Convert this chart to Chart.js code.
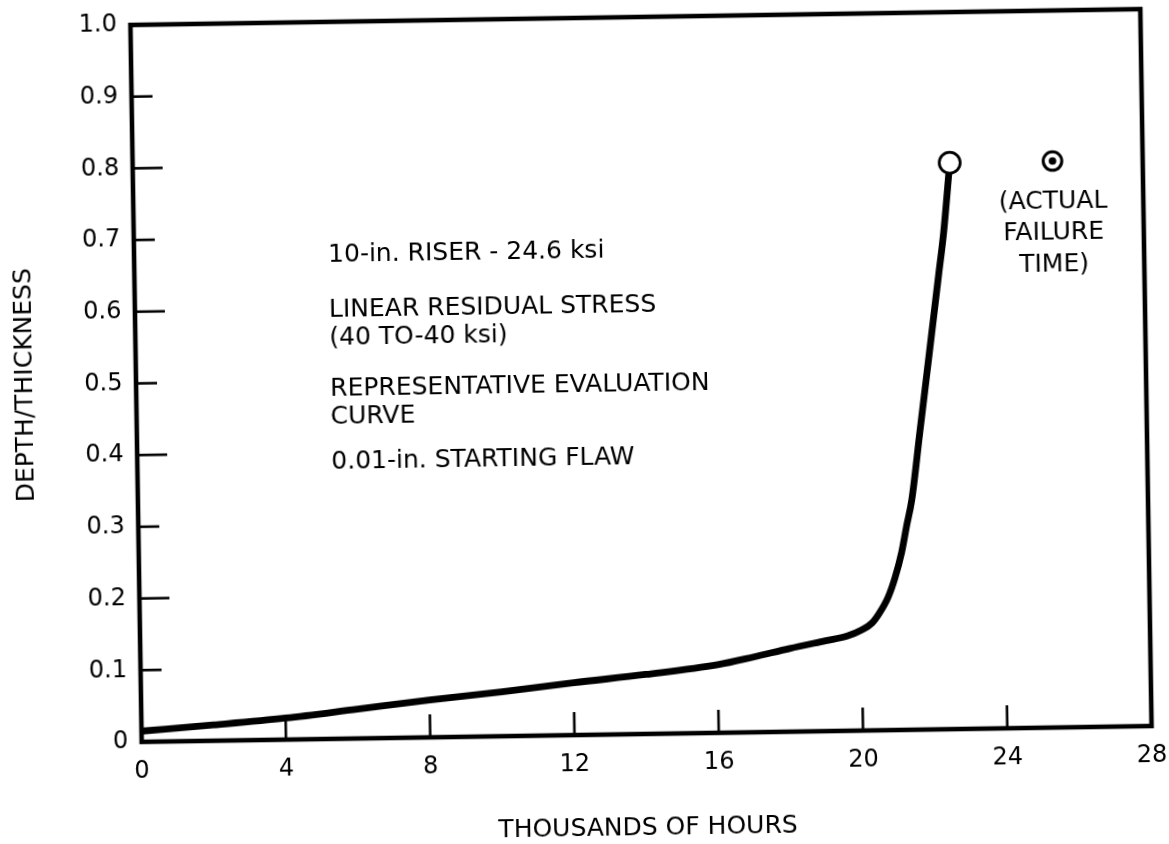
<!DOCTYPE html>
<html>
<head>
<meta charset="utf-8">
<script src="https://cdn.jsdelivr.net/npm/chart.js@4/dist/chart.umd.min.js"></script>
<style>
  html, body { margin: 0; padding: 0; background: #fff; overflow: hidden; }
  #wrap { width: 1169px; height: 844px; }
  /* the printed figure sits slightly askew on the page */
  canvas { display: block; transform: rotate(-0.9deg); transform-origin: 641px 376px; }
</style>
</head>
<body>
<div id="wrap"><canvas id="c" width="1169" height="844"></canvas></div>
<script>
// Crack growth: flaw depth / wall thickness against operating time (thousands of hours)
const hours = [0, 2, 4, 6, 8, 10, 12, 14, 16, 17, 18, 19, 19.6, 20.0, 20.3, 20.5, 20.75, 20.95, 21.15, 21.3, 21.45, 21.7, 22.0, 22.3, 22.45, 22.65];
const depthRatio = [0.015, 0.022, 0.030, 0.041, 0.052, 0.062, 0.073, 0.083, 0.095, 0.105, 0.116, 0.126, 0.132, 0.140, 0.150, 0.163, 0.185, 0.212, 0.248, 0.285, 0.320, 0.413, 0.524, 0.636, 0.692, 0.790];

// End of the predicted curve and the observed failure
const predictedFailure = { x: 22.65, y: 0.79 };
const actualFailure = { x: 25.5, y: 0.79 };

const xTicks = [0, 4, 8, 12, 16, 20, 24, 28];
const xTickLabels = ['0', '4', '8', '12', '16', '20', '24', '28'];
const yTicks = [0, 0.1, 0.2, 0.3, 0.4, 0.5, 0.6, 0.7, 0.8, 0.9, 1.0];
const yTickLabels = ['0', '0.1', '0.2', '0.3', '0.4', '0.5', '0.6', '0.7', '0.8', '0.9', '1.0'];

const caseNotes = [
  '10-in. RISER - 24.6 ksi',
  'LINEAR RESIDUAL STRESS',
  '(40 TO-40 ksi)',
  'REPRESENTATIVE EVALUATION',
  'CURVE',
  '0.01-in. STARTING FLAW'
];
const failureNote = ['(ACTUAL', 'FAILURE', 'TIME)'];

const FONT = 'DejaVu Sans, Liberation Sans, sans-serif';
const INK = '#000';

// Frame, inward tick marks and the text notes inside the plot
const framePlugin = {
  id: 'frame',
  afterDraw(chart) {
    const { ctx, chartArea: a, scales: { x, y } } = chart;
    ctx.save();
    ctx.strokeStyle = INK;
    ctx.lineCap = 'butt';

    // inward ticks on the depth axis: long at even tenths, short at odd
    ctx.lineWidth = 2.6;
    yTicks.forEach(v => {
      if (v <= 0 || v >= 1) return;
      const py = y.getPixelForValue(v);
      const len = Math.round(v * 10) % 2 === 0 ? 30 : 21;
      ctx.beginPath();
      ctx.moveTo(a.left, py);
      ctx.lineTo(a.left + len, py);
      ctx.stroke();
    });
    // inward ticks on the time axis
    xTicks.forEach(v => {
      if (v <= 0 || v >= 28) return;
      const px = x.getPixelForValue(v);
      ctx.beginPath();
      ctx.moveTo(px, a.bottom);
      ctx.lineTo(px, a.bottom - 23);
      ctx.stroke();
    });

    // heavy frame
    ctx.lineWidth = 4.6;
    ctx.lineJoin = 'miter';
    ctx.strokeRect(a.left, a.top, a.right - a.left, a.bottom - a.top);

    // case description
    ctx.fillStyle = INK;
    ctx.font = '25px ' + FONT;
    ctx.textBaseline = 'middle';
    ctx.textAlign = 'left';
    const noteX = x.getPixelForValue(5.38);
    const noteY = [0.674, 0.597, 0.559, 0.488, 0.449, 0.385];
    caseNotes.forEach((t, i) => ctx.fillText(t, noteX, y.getPixelForValue(noteY[i])));

    // label under the observed failure point
    ctx.textAlign = 'center';
    const failX = x.getPixelForValue(actualFailure.x);
    const failY = [0.733, 0.690, 0.645];
    failureNote.forEach((t, i) => ctx.fillText(t, failX, y.getPixelForValue(failY[i])));
    ctx.restore();
  }
};

new Chart(document.getElementById('c'), {
  type: 'line',
  data: {
    datasets: [
      {
        // observed failure: ring with a centre dot
        data: [actualFailure],
        showLine: false,
        pointRadius: 3.8,
        pointBackgroundColor: INK,
        pointBorderWidth: 0,
        order: 0
      },
      {
        data: [actualFailure],
        showLine: false,
        pointRadius: 9.3,
        pointBackgroundColor: '#fff',
        pointBorderColor: INK,
        pointBorderWidth: 3,
        order: 1
      },
      {
        // predicted failure at the end of the curve
        data: [predictedFailure],
        showLine: false,
        pointRadius: 10.5,
        pointBackgroundColor: '#fff',
        pointBorderColor: INK,
        pointBorderWidth: 2.8,
        order: 2
      },
      {
        data: hours.map((h, i) => ({ x: h, y: depthRatio[i] })),
        borderColor: INK,
        borderWidth: 6.8,
        pointRadius: 0,
        fill: false,
        cubicInterpolationMode: 'monotone',
        borderCapStyle: 'round',
        borderJoinStyle: 'round',
        order: 3
      }
    ]
  },
  options: {
    responsive: false,
    devicePixelRatio: 1,
    animation: false,
    events: [],
    layout: { autoPadding: false, padding: { left: 0, right: 23, top: 17, bottom: 0 } },
    plugins: { legend: { display: false }, tooltip: { enabled: false } },
    scales: {
      x: {
        type: 'linear',
        min: 0,
        max: 28,
        afterBuildTicks: s => { s.ticks = xTicks.map(v => ({ value: v })); },
        // fixed axis band; end labels may overhang the frame
        afterFit: s => { s.height = 110; s.paddingLeft = 0; s.paddingRight = 0; },
        grid: { display: false, drawTicks: false },
        border: { display: false },
        ticks: {
          padding: 15,
          color: INK,
          font: { family: FONT, size: 24 },
          maxRotation: 0,
          autoSkip: false,
          callback: (v, i) => xTickLabels[i]
        },
        title: {
          display: true,
          text: 'THOUSANDS OF HOURS',
          color: INK,
          font: { family: FONT, size: 25 },
          padding: { top: 0, bottom: 1 }
        }
      },
      y: {
        type: 'linear',
        min: 0,
        max: 1,
        afterBuildTicks: s => { s.ticks = yTicks.map(v => ({ value: v })); },
        afterFit: s => { s.width = 136; s.paddingTop = 0; s.paddingBottom = 0; },
        grid: { display: false, drawTicks: false },
        border: { display: false },
        ticks: {
          padding: 13.5,
          color: INK,
          font: { family: FONT, size: 24 },
          autoSkip: false,
          callback: (v, i) => yTickLabels[i]
        },
        title: {
          display: true,
          text: 'DEPTH/THICKNESS',
          color: INK,
          font: { family: FONT, size: 25 },
          padding: { top: 10, bottom: 0 }
        }
      }
    }
  },
  plugins: [framePlugin]
});
</script>
</body>
</html>
